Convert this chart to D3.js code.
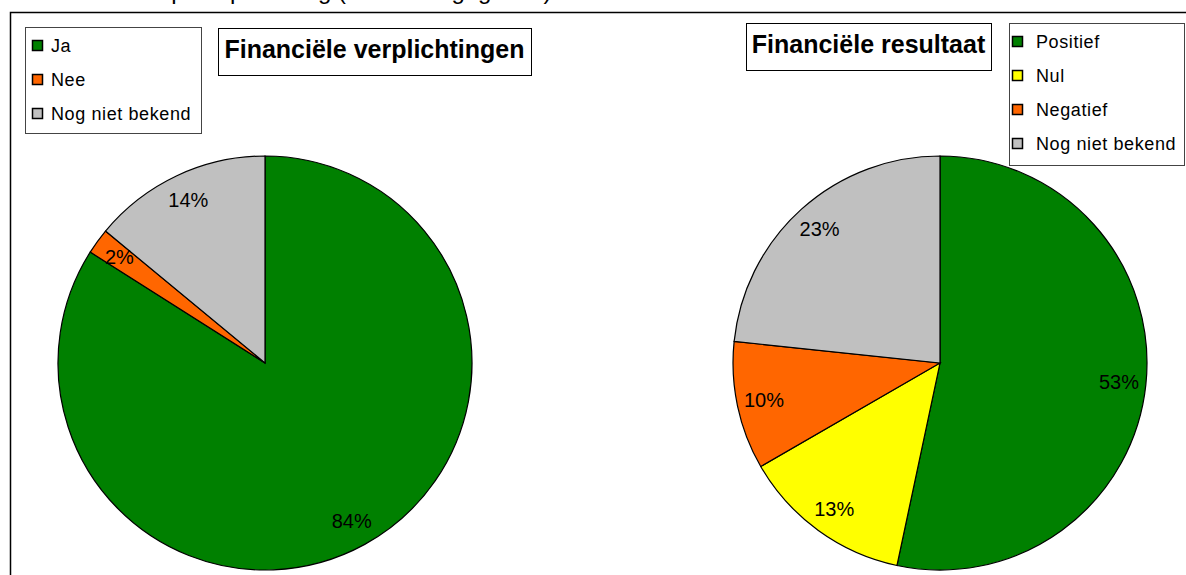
<!DOCTYPE html>
<html>
<head>
<meta charset="utf-8">
<script src="https://cdn.jsdelivr.net/npm/d3@7"></script>
<style>
  body { margin: 0; background: #fff; }
  svg text { font-family: "Liberation Sans", Arial, sans-serif; fill: #000; }
</style>
</head>
<body>
<script>
// data: left pie (financiële verplichtingen), counts per answer
const leftCategories = ['Ja', 'Nee', 'Nog niet bekend'];
const leftCounts = [42, 1, 7];
const leftLabels = ['84%', '2%', '14%'];
const leftColors = ['#008000', '#FF6600', '#C0C0C0'];

// data: right pie (financiële resultaat)
const rightCategories = ['Positief', 'Nul', 'Negatief', 'Nog niet bekend'];
const rightCounts = [16, 4, 3, 7];
const rightLabels = ['53%', '13%', '10%', '23%'];
const rightColors = ['#008000', '#FFFF00', '#FF6600', '#C0C0C0'];

const width = 1186, height = 575;
const radius = 207, labelRadius = 180;

const svg = d3.select('body').append('svg')
  .attr('width', width)
  .attr('height', height);

// heading above the frame, cut off at the top in the original
svg.append('text')
  .attr('x', 340).attr('y', -1)
  .attr('text-anchor', 'middle')
  .style('font-size', '24px')
  .text('Respons per vraag (totaal aangegeven)');

// outer frame, open to the right and bottom
svg.append('path')
  .attr('d', `M${width + 5},12.5 H10.5 V${height + 5}`)
  .attr('fill', 'none')
  .attr('stroke', '#000')
  .attr('stroke-width', 1.5);

function drawPie(cfg) {
  const pie = d3.pie().sort(null).value(d => d);
  const arc = d3.arc().innerRadius(0).outerRadius(radius);
  const labelArc = d3.arc().innerRadius(labelRadius).outerRadius(labelRadius);
  const color = d3.scaleOrdinal().domain(cfg.categories).range(cfg.colors);

  const g = svg.append('g').attr('transform', `translate(${cfg.cx},${cfg.cy})`);
  const arcs = pie(cfg.counts);

  g.selectAll('path.slice')
    .data(arcs)
    .join('path')
    .attr('class', 'slice')
    .attr('d', arc)
    .attr('fill', (d, i) => color(cfg.categories[i]))
    .attr('stroke', '#000')
    .attr('stroke-width', 1.2);

  g.selectAll('text.lbl')
    .data(arcs)
    .join('text')
    .attr('class', 'lbl')
    .attr('transform', d => `translate(${labelArc.centroid(d)})`)
    .attr('text-anchor', 'middle')
    .attr('dominant-baseline', 'central')
    .style('font-size', '20px')
    .text((d, i) => cfg.labels[i]);

  // title box
  const t = cfg.title;
  svg.append('rect')
    .attr('x', t.x + 0.5).attr('y', t.y + 0.5)
    .attr('width', t.w).attr('height', t.h)
    .attr('fill', '#fff').attr('stroke', '#000');
  svg.append('text')
    .attr('x', t.x + t.w / 2).attr('y', t.y + 30)
    .attr('text-anchor', 'middle')
    .style('font-size', '25px')
    .style('font-weight', 'bold')
    .text(t.text);

  // legend box
  const L = cfg.legend;
  svg.append('rect')
    .attr('x', L.x + 0.5).attr('y', L.y + 0.5)
    .attr('width', L.w).attr('height', L.h)
    .attr('fill', '#fff').attr('stroke', '#444');
  const item = svg.selectAll(null)
    .data(cfg.categories)
    .join('g')
    .attr('transform', (d, i) => `translate(${L.x},${L.y + L.first + i * L.step})`);
  item.append('rect')
    .attr('x', L.sq + 0.5).attr('y', -11.5)
    .attr('width', 10).attr('height', 10)
    .attr('fill', d => color(d))
    .attr('stroke', '#000').attr('stroke-width', 1.5);
  item.append('text')
    .attr('x', L.tx).attr('y', 0)
    .style('font-size', '18px')
    .style('letter-spacing', '0.6px')
    .text(d => d);
}

drawPie({
  cx: 265, cy: 363,
  categories: leftCategories, counts: leftCounts, labels: leftLabels, colors: leftColors,
  title: { x: 218, y: 28, w: 313, h: 47, text: 'Financiële verplichtingen' },
  legend: { x: 25, y: 27, w: 176, h: 106, first: 25, step: 34, sq: 7, tx: 26 }
});

drawPie({
  cx: 940, cy: 363,
  categories: rightCategories, counts: rightCounts, labels: rightLabels, colors: rightColors,
  title: { x: 746, y: 23, w: 245, h: 47, text: 'Financiële resultaat' },
  legend: { x: 1009, y: 23, w: 175, h: 142, first: 25, step: 34, sq: 3, tx: 27 }
});
</script>
</body>
</html>
